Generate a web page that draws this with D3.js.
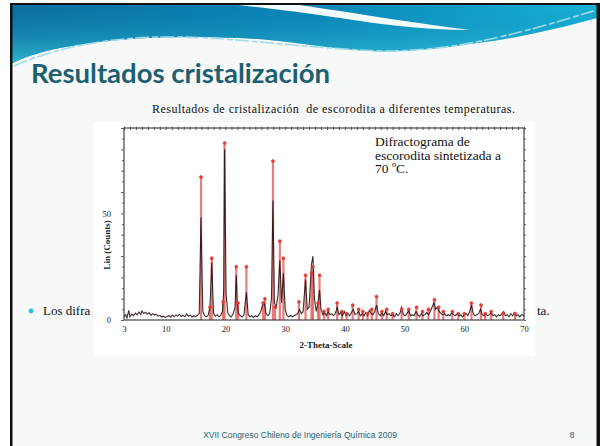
<!DOCTYPE html>
<html><head><meta charset="utf-8">
<script src="https://cdn.jsdelivr.net/npm/d3@7"></script>
<style>body{margin:0;background:#fff}svg{display:block}text{white-space:pre}</style>
</head><body><svg id="c" width="600" height="446"></svg>
<script>
// ---- data ----
const titleText = "Resultados cristalización";
const subtitleText = "Resultados de cristalización  de escorodita a diferentes temperaturas.";
const noteLines = ["Difractograma de", "escorodita sintetizada a", "70 ºC."];
const footerText = "XVII Congreso Chileno de Ingeniería Química 2009";
const pageNumber = "8";
const xTickLabels = [3, 10, 20, 30, 40, 50, 60, 70];
const yTickLabels = [0, 50];
const xTitle = "2-Theta-Scale";
const yTitle = "Lin (Counts)";
// measured pattern (2-theta, counts)
const measured = [
[3.0,1.5],[3.3,2.5],[3.5,1],[3.8,4.5],[4.0,1.5],[4.3,2.8],[4.6,2],[4.9,3.2],[5.2,2.4],[5.5,3.8],[5.8,2.6],[6.0,4.2],[6.3,3],[6.6,3.6],[6.9,2.8],[7.2,3.4],[7.5,2.2],[7.8,3],[8.1,2.4],[8.4,2.6],[8.7,1.8],[9.0,2.2],[9.3,1.4],[9.6,1.8],[9.9,1.2],[10.2,1.6],[10.5,2],[10.8,1.4],[11.1,2.2],[11.4,1.6],[11.7,2.4],[12.0,1.8],[12.3,2.6],[12.6,1.6],[12.9,2.2],[13.2,1.5],[13.5,2.8],[13.8,1.8],[14.1,2.4],[14.4,1.4],[14.7,2],[15.0,1.6],[15.3,2.2],[15.6,3],
[15.9,48],[16.2,4],[16.5,2],[16.8,1.5],[17.1,2.2],[17.4,6],[17.7,27],[18.0,3],[18.3,1.8],[18.6,2.5],[18.9,1.5],[19.2,2.2],[19.5,4],[19.7,14],[19.85,80],[20.1,12],[20.4,3],[20.7,2],[21.0,1.5],[21.3,3],[21.6,6],[21.8,21],[22.0,7],[22.2,3],[22.5,2],[22.8,1.4],[23.1,2.5],[23.5,13],[23.8,2.5],[24.1,1.5],[24.4,2],[24.7,1.2],[25.0,2],[25.3,1.5],[25.6,2.5],[25.9,4],[26.2,7],[26.5,8],[26.8,3],[27.1,2],[27.4,3],[27.7,10],[27.95,56],[28.2,8],[28.5,6],[28.8,12],[29.1,28],[29.4,8],[29.7,22],[30.0,5],[30.3,2],[30.6,1.5],[30.9,2.2],[31.2,1.5],[31.5,2],[31.8,2.5],[32.1,3],[32.4,5],[32.7,3],[33.0,4],[33.4,19],[33.7,5],[34.0,6],[34.4,26],[34.65,30],[34.9,10],[35.2,4],[35.5,8],[35.75,14],[36.0,5],[36.3,2.5],[36.6,3.5],[36.9,2],[37.2,4],[37.5,2.5],[37.8,3],[38.1,2],[38.4,3],[38.7,6],[39.0,2.5],[39.3,3.5],[39.6,2],[39.9,4],[40.2,2],[40.5,3],[40.8,2],[41.1,3.5],[41.4,5],[41.7,2.5],[42.0,3],[42.3,4],[42.6,2],[42.9,3],[43.2,2],[43.5,3.5],[43.8,2],[44.1,4.5],[44.4,3],[44.7,2.5],[45.0,4],[45.3,7],[45.6,3],[45.9,2],[46.2,3.5],[46.5,2],[46.8,4],[47.1,2.5],[47.4,3],[47.7,2],[48.0,2.5],[48.3,1.5],[48.6,3],[48.9,2],[49.2,3],[49.5,6],[49.8,2.5],[50.1,2],[50.4,3],[50.7,4.5],[51.0,2],[51.3,2.5],[51.6,2],[51.9,4],[52.2,2.5],[52.5,1.5],[52.8,3],[53.1,2],[53.4,2.5],[53.7,3.5],[54.0,2.5],[54.3,4],[54.6,6],[54.9,8],[55.2,5],[55.5,6],[55.8,4],[56.1,3],[56.4,2.5],[56.7,3],[57.0,2],[57.3,2.5],[57.6,2],[57.9,3.5],[58.2,2.5],[58.5,2],[58.8,3],[59.1,2],[59.4,2.5],[59.7,1.5],[60.0,2.5],[60.3,3],[60.6,2],[60.9,4],[61.2,7],[61.5,3],[61.8,2],[62.1,2.5],[62.4,3],[62.7,5],[63.0,2.5],[63.3,2],[63.6,3],[63.9,2],[64.2,2.5],[64.5,3.5],[64.8,2],[65.1,2.5],[65.4,1.5],[65.7,2.5],[66.0,2],[66.3,3],[66.6,4],[66.9,2],[67.2,2.5],[67.5,1.5],[67.8,3],[68.1,2],[68.4,3.5],[68.7,2],[69.0,2.5],[69.3,1.5],[69.6,2.5],[70.0,2]
];
// reference peaks (2-theta, counts)
const referencePeaks = [
[15.9,67],[17.4,6],[17.7,29],[19.6,8.5],[19.85,83],[21.8,25],[22.1,8],[23.5,25],[26.3,8],[26.6,10],[27.95,74.5],[28.3,6],[29.1,37],[29.7,29],[32.3,8.5],[33.4,21],[34.4,22],[34.65,25],[35.5,8],[35.75,21],
[36.5,4],[37.2,5],[38.7,8],[39.5,4],[40.3,3],[41.3,7],[42.3,5],[43.0,4],[43.8,3],[44.5,5],[45.3,11],[46.2,4],[47.0,5],[48.0,3],[49.5,5],[50.7,5],[52.0,6],[53.0,4],[54.0,5],[55.0,9.5],[55.7,6],[56.5,4],[58.0,4],[59.0,3],[60.0,3],[61.2,8],[62.8,7],[63.5,3],[64.5,4],[66.5,3],[68.5,3]
];

// ---- drawing ----
const svg = d3.select("#c");
const defs = svg.append("defs");
const g1 = defs.append("linearGradient").attr("id","hdr").attr("x1","0").attr("x2","1").attr("y1","0").attr("y2","0");
g1.append("stop").attr("offset","0").attr("stop-color","#0b6f9e");
g1.append("stop").attr("offset","0.5").attr("stop-color","#0a86b8");
g1.append("stop").attr("offset","1").attr("stop-color","#17b2d6");
const g2 = defs.append("linearGradient").attr("id","hdr2").attr("x1","0").attr("x2","0").attr("y1","0").attr("y2","1");
g2.append("stop").attr("offset","0").attr("stop-color","#0a7fb0").attr("stop-opacity",0);
g2.append("stop").attr("offset","1").attr("stop-color","#3cc8dc").attr("stop-opacity",0.8);

// slide background
svg.append("rect").attr("x",0).attr("y",0).attr("width",600).attr("height",446).attr("fill","#fff");
svg.append("rect").attr("x",11).attr("y",5).attr("width",586).attr("height",441).attr("fill","#f7f8f8");
// header wave
const hdr = "M11,5 L597,5 L597,18 C560,28 520,38 470,44 C430,50 400,52 370,51 C320,48 290,40 240,38 C170,35 110,38 60,48 C40,52 22,58 11,64 Z";
svg.append("path").attr("d",hdr).attr("fill","url(#hdr)");
svg.append("path").attr("d",hdr).attr("fill","url(#hdr2)");
// white swoosh
svg.append("path").attr("d","M238,5 L300,5 C360,14 420,24 470,30 C430,30 390,26 340,18 C300,12 265,8 238,5 Z").attr("fill","#f4fbfd");
// thin wavy light line
svg.append("path").attr("d","M14,66 C50,50 100,38 160,37 C230,36 300,48 380,51 C460,52 530,30 597,10")
  .attr("fill","none").attr("stroke","#9fdbe8").attr("stroke-width",1.6).attr("stroke-dasharray","14 3 6 2");
// border
svg.append("rect").attr("x",10).attr("y",4).attr("width",2.5).attr("height",442).attr("fill","#111");
svg.append("rect").attr("x",596.5).attr("y",4).attr("width",3.5).attr("height",442).attr("fill","#111");
svg.append("rect").attr("x",10).attr("y",3).attr("width",590).attr("height",2).attr("fill","#111");

// title
svg.append("text").attr("x",31).attr("y",83).text(titleText)
  .attr("font-family","Lato").attr("font-weight","bold").attr("font-size",27.5).attr("fill","#1d5f6f");
svg.append("text").attr("x",152).attr("y",113).attr("textLength",363).attr("lengthAdjust","spacing").text(subtitleText)
  .attr("font-family","Liberation Serif").attr("font-size",12).attr("fill","#111");

// bullet line
svg.append("circle").attr("cx",31).attr("cy",311).attr("r",2.4).attr("fill","#1ec0dc");
svg.append("text").attr("x",43).attr("y",315).text("Los difra").attr("font-family","Liberation Serif").attr("font-size",13).attr("fill","#111");
svg.append("text").attr("x",537).attr("y",315).text("ta.").attr("font-family","Liberation Serif").attr("font-size",13).attr("fill","#111");

// chart image background
svg.append("rect").attr("x",94).attr("y",122).attr("width",441).attr("height",234).attr("fill","#ffffff");

const x = d3.scaleLinear().domain([3,70]).range([124,524]);
const y = d3.scaleLinear().domain([0,90]).range([320,128]);

// reference sticks
const chart = svg.append("g");
chart.selectAll("line.ref").data(referencePeaks).join("line").attr("class","ref")
  .attr("x1",d=>x(d[0])).attr("x2",d=>x(d[0])).attr("y1",y(0)).attr("y2",d=>y(d[1]))
  .attr("stroke","#e0504f").attr("stroke-opacity",0.75).attr("stroke-width",2.2);
// measured line
chart.append("path").datum(measured)
  .attr("d",d3.line().x(d=>x(d[0])).y(d=>y(d[1])))
  .attr("fill","none").attr("stroke","#1a0a0a").attr("stroke-width",1.1).attr("stroke-opacity",0.85);
// markers
chart.selectAll("circle.m").data(referencePeaks).join("circle").attr("class","m")
  .attr("cx",d=>x(d[0])).attr("cy",d=>y(d[1])).attr("r",1.5)
  .attr("fill","#e53935").attr("stroke","#e53935").attr("stroke-width",0.6);

// frame & axes
const axFont = g => g.selectAll("text").attr("font-family","Liberation Serif").attr("font-size",8.5).attr("fill","#222");
const axB = svg.append("g").attr("transform",`translate(0,${y(0)})`)
  .call(d3.axisBottom(x).tickValues(xTickLabels).tickSize(0).tickPadding(6).tickFormat(d3.format("d")));
axB.select(".domain").remove(); axB.call(axFont);
const axL = svg.append("g").attr("transform",`translate(${x(3)},0)`)
  .call(d3.axisLeft(y).tickValues(d3.range(0,91,5)).tickSize(2).tickPadding(11).tickFormat(d=>yTickLabels.includes(d)?d:""));
axL.select(".domain").remove(); axL.selectAll("line").attr("stroke","#666"); axL.call(axFont);
axL.selectAll(".tick").filter(d=>d%10===0).select("line").attr("x2",-3);
const axR = svg.append("g").attr("transform",`translate(${x(70)},0)`)
  .call(d3.axisRight(y).tickValues(d3.range(0,91,5)).tickSize(2).tickFormat(""));
axR.select(".domain").remove(); axR.selectAll("line").attr("stroke","#666");
const axT = svg.append("g").attr("transform",`translate(0,${y(90)})`)
  .call(d3.axisTop(x).tickValues(d3.range(3,71,1)).tickSize(-2).tickFormat(""));
axT.select(".domain").remove(); axT.selectAll("line").attr("stroke","#555");
const axT2 = svg.append("g").attr("transform",`translate(0,${y(90)})`)
  .call(d3.axisTop(x).tickValues(d3.range(3,71,1)).tickSize(1.5).tickFormat(""));
axT2.select(".domain").remove(); axT2.selectAll("line").attr("stroke","#777");
svg.append("rect").attr("x",x(3)).attr("y",y(90)).attr("width",x(70)-x(3)).attr("height",y(0)-y(90))
  .attr("fill","none").attr("stroke","#444").attr("stroke-width",1.2);

svg.append("text").attr("x",(x(3)+x(70))/2+2).attr("y",348).attr("text-anchor","middle").text(xTitle)
  .attr("font-family","Liberation Serif").attr("font-weight","bold").attr("font-size",9).attr("fill","#222");
svg.append("text").attr("transform",`translate(110,245) rotate(-90)`).attr("text-anchor","middle").text(yTitle)
  .attr("font-family","Liberation Serif").attr("font-weight","bold").attr("font-size",9).attr("fill","#222");

// annotation
svg.selectAll("text.note").data(noteLines).join("text").attr("class","note")
  .attr("x",375).attr("y",(d,i)=>146+i*13.5).text(d=>d)
  .attr("font-family","Liberation Serif").attr("font-size",13.5).attr("fill","#111");

// footer
svg.append("text").attr("x",300).attr("y",438).attr("text-anchor","middle").text(footerText)
  .attr("font-family","Liberation Sans").attr("font-size",8.5).attr("fill","#2a6272");
svg.append("text").attr("x",572).attr("y",438).attr("text-anchor","middle").text(pageNumber)
  .attr("font-family","Liberation Sans").attr("font-size",8.5).attr("fill","#2a6272");
</script></body></html>
